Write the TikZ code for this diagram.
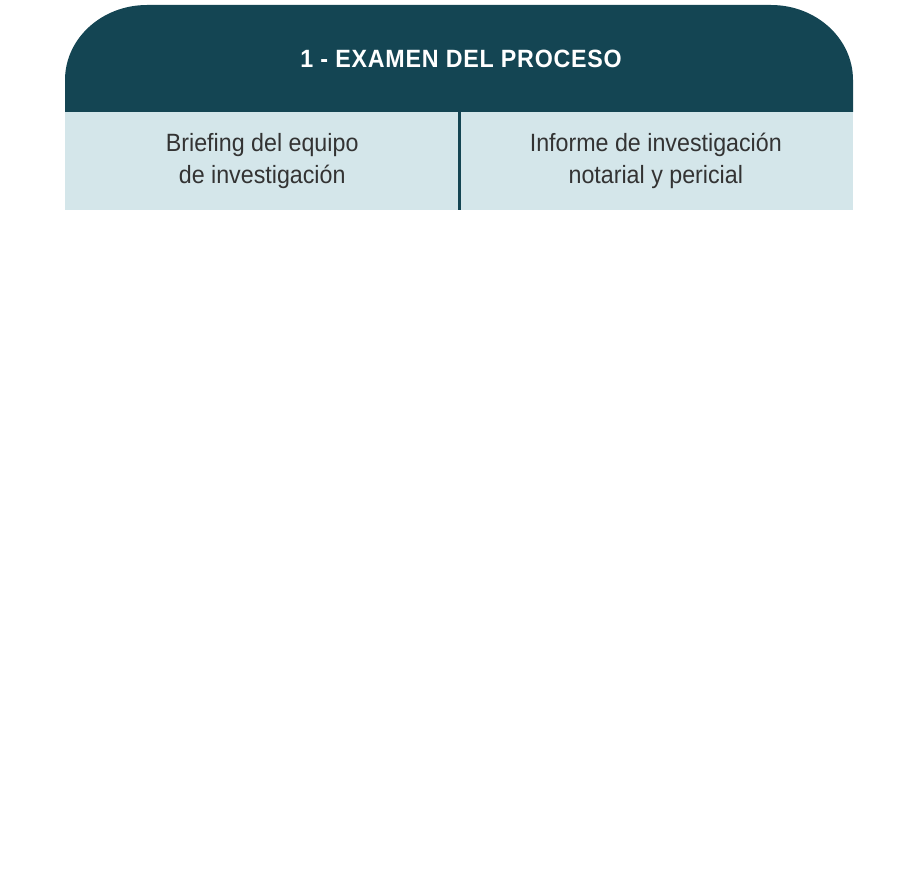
\documentclass[tikz,border=0pt]{standalone}
\usepackage{fontspec}
\setmainfont[FakeStretch=0.93]{Liberation Sans}
\usepackage{tikz}
\usetikzlibrary{positioning}

\definecolor{headteal}{RGB}{20,69,83}
\definecolor{cellblue}{RGB}{212,230,234}
\definecolor{textgray}{RGB}{51,51,51}

\tikzset{
  cell/.style = {fill=cellblue, minimum width=394pt, minimum height=98pt, inner sep=0pt},
  celltext/.style = {text=textgray, align=center, font=\fontsize{25}{32}\selectfont},
}

\begin{document}
\begin{tikzpicture}[x=1pt, y=-1pt]
\useasboundingbox (0,0) rectangle (920,869);

% header with round top corners
\fill[headteal] (65,112) -- (65,80) arc[start angle=180, end angle=270, x radius=82, y radius=75]
  -- (771,5) arc[start angle=270, end angle=360, x radius=82, y radius=75] -- (853,112) -- cycle;
\node[text=white, font=\fontsize{25}{30}\selectfont\bfseries\addfontfeatures{LetterSpace=3}] (title) at (461,59) {1 - EXAMEN DEL PROCESO};

\node[cell, anchor=north west] (lbox) at (65,112) {};
\node[cell, anchor=north east] (rbox) at (853,112) {};
\node[celltext] (ltext) at (lbox.center) {Briefing del equipo\\de investigación};
\node[celltext] (rtext) at (rbox.center) {Informe de investigación\\notarial y pericial};

\draw[headteal, line width=3pt] (lbox.north east) -- (lbox.south east);

\end{tikzpicture}
\end{document}
